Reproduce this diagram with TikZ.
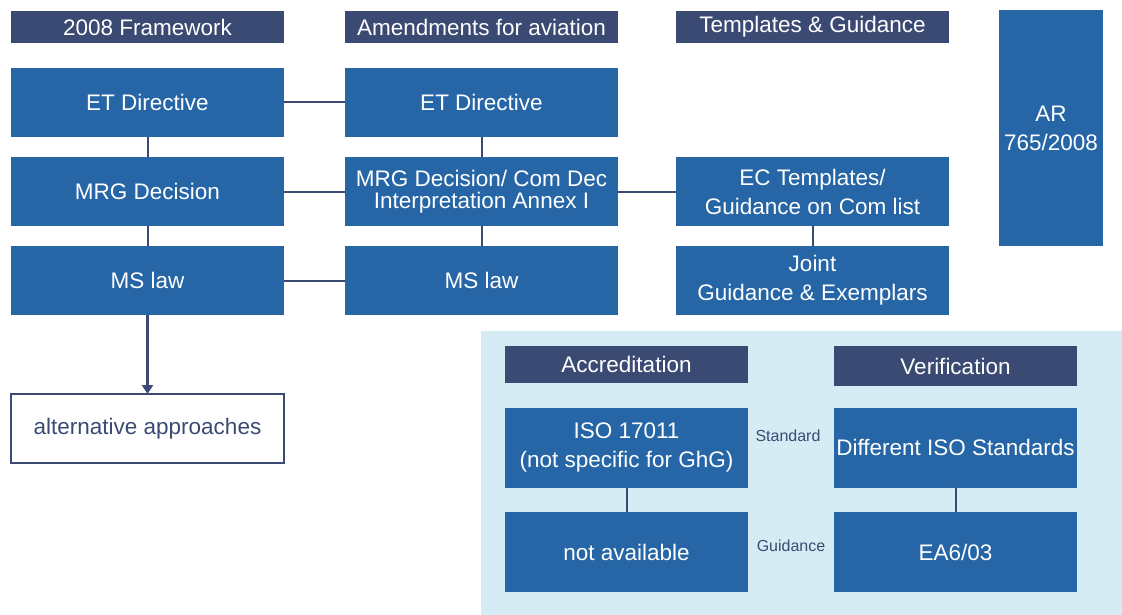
\documentclass[tikz,border=0pt]{standalone}
\usepackage{fontspec}
\setmainfont{Liberation Sans}
\usetikzlibrary{arrows.meta}
\definecolor{navy}{HTML}{3B4A72}
\definecolor{boxblue}{HTML}{2666A6}
\definecolor{bglight}{HTML}{D6ECF5}
\tikzset{
  base/.style={inner sep=0pt, outer sep=0pt, align=center, text=white,
    font=\fontsize{22.5}{29}\selectfont},
  hdr/.style={base, fill=navy, minimum width=273pt, minimum height=32pt},
  bbox/.style={base, fill=boxblue, minimum width=273pt, minimum height=69pt},
  lbox/.style={base, fill=boxblue, minimum width=243pt, minimum height=80pt},
  lhdr/.style={base, fill=navy, minimum width=243pt},
  conn/.style={draw=navy, line width=2pt},
  arr/.style={draw=navy, line width=3pt, -{Triangle[width=11pt,length=9pt]}},
  small/.style={inner sep=0pt, text=navy, font=\fontsize{16}{18}\selectfont}
}
\begin{document}
\begin{tikzpicture}[x=1pt,y=-1pt]
\useasboundingbox (0,0) rectangle (1122,615);
% light background
\fill[bglight] (481,331) rectangle (1122,615);
% headers
\node[hdr] (h1) at (147.5,27) {2008 Framework};
\node[hdr] (h2) at (481.5,27) {Amendments for aviation};
\node[hdr] (h3) at (812.5,27) {Templates \& Guidance};
% AR
\node[base, fill=boxblue, minimum width=104pt, minimum height=236pt] (ar) at (1051,128) {AR\\765/2008};
% left column
\node[bbox] (etl) at (147.5,102.5) {ET Directive};
\node[bbox] (mrgl) at (147.5,191.5) {MRG Decision};
\node[bbox] (msl) at (147.5,280.5) {MS law};
% middle column
\node[bbox] (etm) at (481.5,102.5) {ET Directive};
\node[bbox, font=\fontsize{22.5}{22.5}\selectfont] (mrgm) at (481.5,191.5) {MRG Decision/ Com Dec\\Interpretation Annex I};
\node[bbox] (msm) at (481.5,280.5) {MS law};
% right column
\node[bbox] (ec) at (812.5,191.5) {EC Templates/\\Guidance on Com list};
\node[bbox] (joint) at (812.5,280.5) {Joint\\Guidance \& Exemplars};
% alternative approaches
\node[base, fill=white, draw=navy, line width=1.2pt, text=navy, minimum width=273pt, minimum height=69pt] (alt) at (147.5,428.5) {alternative approaches};
% lower panel
\node[lhdr, minimum height=37pt] (acc) at (626.5,364.5) {Accreditation};
\node[lhdr, minimum height=40pt] (ver) at (955.5,366) {Verification};
\node[lbox] (iso) at (626.5,447.5) {ISO 17011\\(not specific for GhG)};
\node[lbox] (diso) at (955.5,447.5) {Different ISO Standards};
\node[lbox] (na) at (626.5,552) {not available};
\node[lbox] (ea) at (955.5,552) {EA6/03};
\node[small] (lstd) at (788,436) {Standard};
\node[small] (lgd) at (791,546) {Guidance};
% connectors
\draw[conn] (etl) -- (etm);
\draw[conn] (mrgl) -- (mrgm);
\draw[conn] (msl) -- (msm);
\draw[conn] (etl) -- (mrgl);
\draw[conn] (mrgl) -- (msl);
\draw[conn] (etm) -- (mrgm);
\draw[conn] (mrgm) -- (msm);
\draw[conn] (mrgm) -- (ec);
\draw[conn] (ec) -- (joint);
\draw[conn] (iso) -- (na);
\draw[conn] (diso) -- (ea);
\draw[arr] (msl) -- (alt);
\end{tikzpicture}
\end{document}
